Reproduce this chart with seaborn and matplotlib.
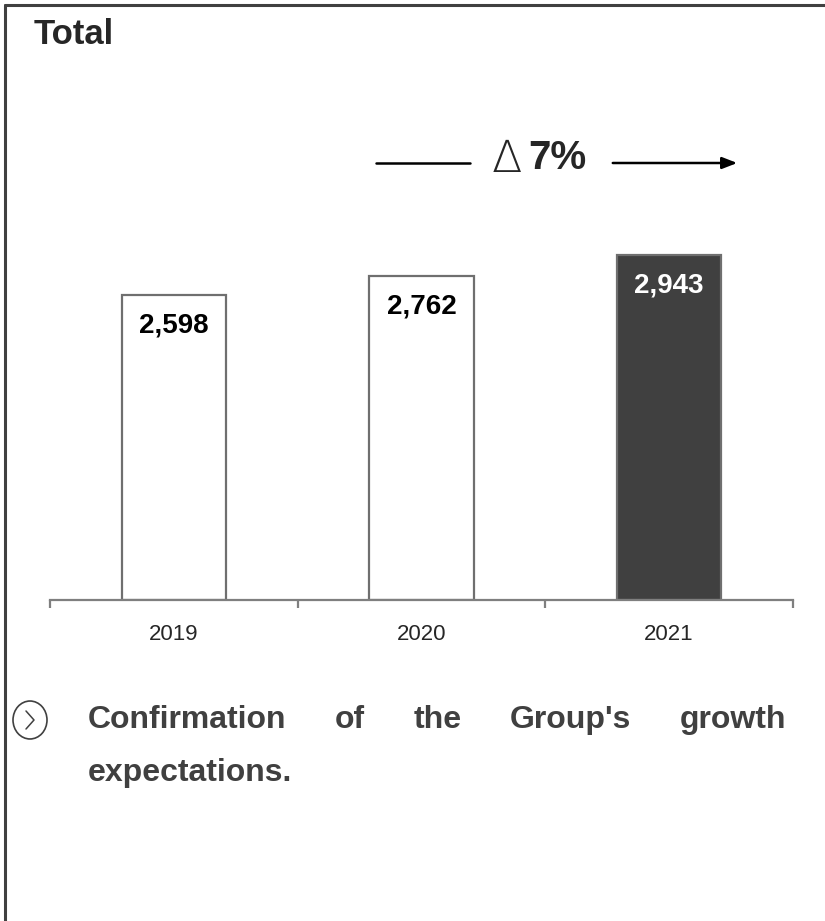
import matplotlib
matplotlib.use("Agg")
import matplotlib.pyplot as plt
from matplotlib.lines import Line2D
from matplotlib.patches import Circle
import seaborn as sns
import pandas as pd

# podaci
years = ["2019", "2020", "2021"]
values = [2598, 2762, 2943]
value_labels = ["2,598", "2,762", "2,943"]
bar_colors = ["#ffffff", "#ffffff", "#404040"]
label_colors = ["#000000", "#000000", "#ffffff"]
growth_text = "7%"
note_line1 = ["Confirmation", "of", "the", "Group's", "growth"]
note_line2 = "expectations."

sns.set_style("white")
plt.rcParams['font.family'] = ['Liberation Sans', 'DejaVu Sans']

W, H = 825, 921
fig = plt.figure(figsize=(W / 100, H / 100), dpi=100)

def fx(x):
    return x / W

def fy(y):
    return 1 - y / H

# os
ax = fig.add_axes([fx(50), fy(600), fx(793) - fx(50), fy(100) - fy(600)])

df = pd.DataFrame({"year": years, "value": values})
sns.barplot(data=df, x="year", y="value", hue="year", palette=bar_colors,
            legend=False, width=0.42, ax=ax, saturation=1)
for p in ax.patches:
    p.set_edgecolor("#6f6f6f")
    p.set_linewidth(1.6)

for i, (v, lab, c) in enumerate(zip(values, value_labels, label_colors)):
    ax.annotate(lab, (i, v), xytext=(0, -22), textcoords="offset points",
                ha="center", va="center", fontsize=20, fontweight="bold", color=c)

ax.set_xlim(-0.5, 2.5)
ax.set_ylim(0, 4260)
ax.set_xlabel("")
ax.set_ylabel("")
ax.set_yticks([])
ax.set_xticks([0, 1, 2])
ax.set_xticklabels(years, fontsize=16)
ax.set_xticks([-0.5, 0.5, 1.5, 2.5], minor=True)
ax.tick_params(axis="x", which="major", length=0, pad=17)
ax.tick_params(axis="x", which="minor", length=6, width=1.6, color="#7f7f7f", direction="out", bottom=True)
for s in ["top", "right", "left"]:
    ax.spines[s].set_visible(False)
ax.spines["bottom"].set_color("#7f7f7f")
ax.spines["bottom"].set_linewidth(1.6)
ax.patch.set_alpha(0)

# okvir
fig.add_artist(Line2D([fx(5), 1], [fy(5), fy(5)], color="#404040", lw=2.2))
fig.add_artist(Line2D([fx(5), fx(5)], [fy(5), 0], color="#404040", lw=2.2))

# naslov
fig.text(fx(34), fy(35), "Total", fontsize=25, fontweight="bold", va="center", ha="left")

# strelica s rastom
fig.add_artist(Line2D([fx(376), fx(470)], [fy(163), fy(163)], color="black", lw=1.8))
ax.annotate("", xy=(fx(740), fy(163)), xytext=(fx(610), fy(163)),
            xycoords=fig.transFigure, textcoords=fig.transFigure,
            arrowprops=dict(arrowstyle="-|>,head_length=0.9,head_width=0.35", color="black", lw=1.8))
fig.text(fx(507), fy(160), "\u2206", fontsize=32, family=['DejaVu Sans'], fontweight="light",
         ha="center", va="center")
fig.text(fx(528), fy(158), growth_text, fontsize=29, fontweight="bold", ha="left", va="center")

# napomena - krug sa strelicom
cx, cy = 30, 720
fig.add_artist(Circle((fx(cx), fy(cy)), radius=17 / W, transform=fig.transFigure,
                      fill=False, edgecolor="#404040", lw=1.2))
fig.add_artist(Line2D([fx(cx - 4), fx(cx + 4), fx(cx - 4)], [fy(cy - 9), fy(cy), fy(cy + 9)],
                      color="#404040", lw=1.1))

note_color = "#404040"
note_size = 23
left, right = 88, 786
fig.canvas.draw()
renderer = fig.canvas.get_renderer()
words = []
total = 0
for w in note_line1:
    t = fig.text(0, fy(720), w, fontsize=note_size, fontweight="bold", color=note_color,
                 ha="left", va="center")
    bb = t.get_window_extent(renderer)
    words.append((t, bb.width))
    total += bb.width
gap = ((right - left) - total) / (len(words) - 1)
x = left
for t, wd in words:
    t.set_x(fx(x))
    x += wd + gap
fig.text(fx(left), fy(773), note_line2, fontsize=note_size, fontweight="bold",
         color=note_color, ha="left", va="center")

fig.savefig("out.png", dpi=100, facecolor="white")
